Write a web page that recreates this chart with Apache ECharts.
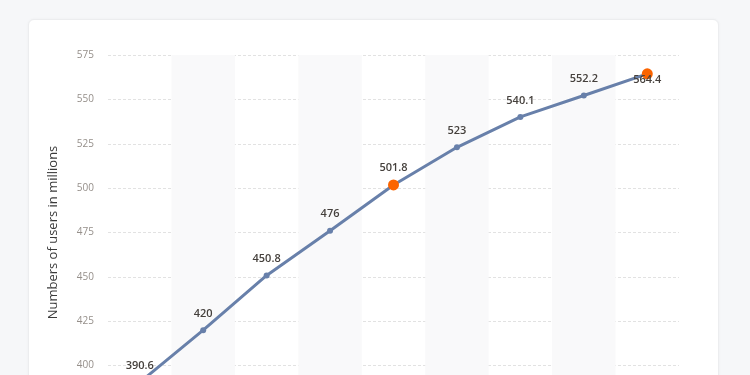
<!DOCTYPE html>
<html><head><meta charset="utf-8">
<script src="https://cdn.jsdelivr.net/npm/echarts@6/dist/echarts.min.js"></script>
<style>
html,body{margin:0;padding:0;width:750px;height:375px;overflow:hidden;background:#f6f7f9;}
#card{position:absolute;left:28px;top:19px;width:689px;height:420px;background:#fff;border:1px solid #ecedef;border-radius:6px;box-shadow:0 0 3px rgba(0,0,0,0.04);}
#chart{position:absolute;left:0;top:0;width:750px;height:450px;}
</style></head>
<body>
<div id="card"></div>
<div id="chart"></div>
<script>
const categories = ['1','2','3','4','5','6','7','8','9'];
const users = [390.6, 420, 450.8, 476, 501.8, 523, 540.1, 552.2, 564.4];
const highlighted = [4, 8];
const yTicks = {min: 375, max: 575, interval: 25};
const axisName = 'Numbers of users in millions';

const chart = echarts.init(document.getElementById('chart'), null, {renderer: 'canvas'});
const seriesData = users.map((v, i) => {
  const item = {value: v};
  if (highlighted.includes(i)) {
    item.symbolSize = 11;
    item.itemStyle = {color: '#fb6400'};
    item.label = {distance: 6};
  }
  if (i === users.length - 1) {
    item.label = {position: 'inside', offset: [0, 6]};
  }
  return item;
});
chart.setOption({
  animation: false,
  grid: {left: 108, right: 71, top: 55, bottom: 40},
  xAxis: {
    type: 'category',
    data: categories,
    boundaryGap: true,
    axisLine: {show: false},
    axisTick: {show: false},
    axisLabel: {show: false},
    splitLine: {show: false},
    splitArea: {show: true, areaStyle: {color: ['rgba(255,255,255,0)', '#f9f9fa']}}
  },
  yAxis: {
    type: 'value',
    min: yTicks.min, max: yTicks.max, interval: yTicks.interval,
    name: axisName,
    nameLocation: 'middle',
    nameGap: 48,
    nameTextStyle: {fontFamily: 'Open Sans', fontSize: 13, color: '#3a3a3a'},
    axisLine: {show: false},
    axisTick: {show: false},
    axisLabel: {fontFamily: 'Open Sans', fontSize: 10, color: '#958f8a', margin: 14},
    splitLine: {lineStyle: {type: [3, 2], color: '#e2e2e2', width: 1}}
  },
  series: [{
    type: 'line',
    data: seriesData,
    symbol: 'circle',
    symbolSize: 6,
    lineStyle: {color: '#6880aa', width: 3},
    itemStyle: {color: '#6880aa'},
    label: {
      show: true, position: 'top', distance: 8,
      fontFamily: 'Open Sans', fontSize: 11, color: '#45403c', fontWeight: 600
    }
  }]
});
</script>
</body></html>
